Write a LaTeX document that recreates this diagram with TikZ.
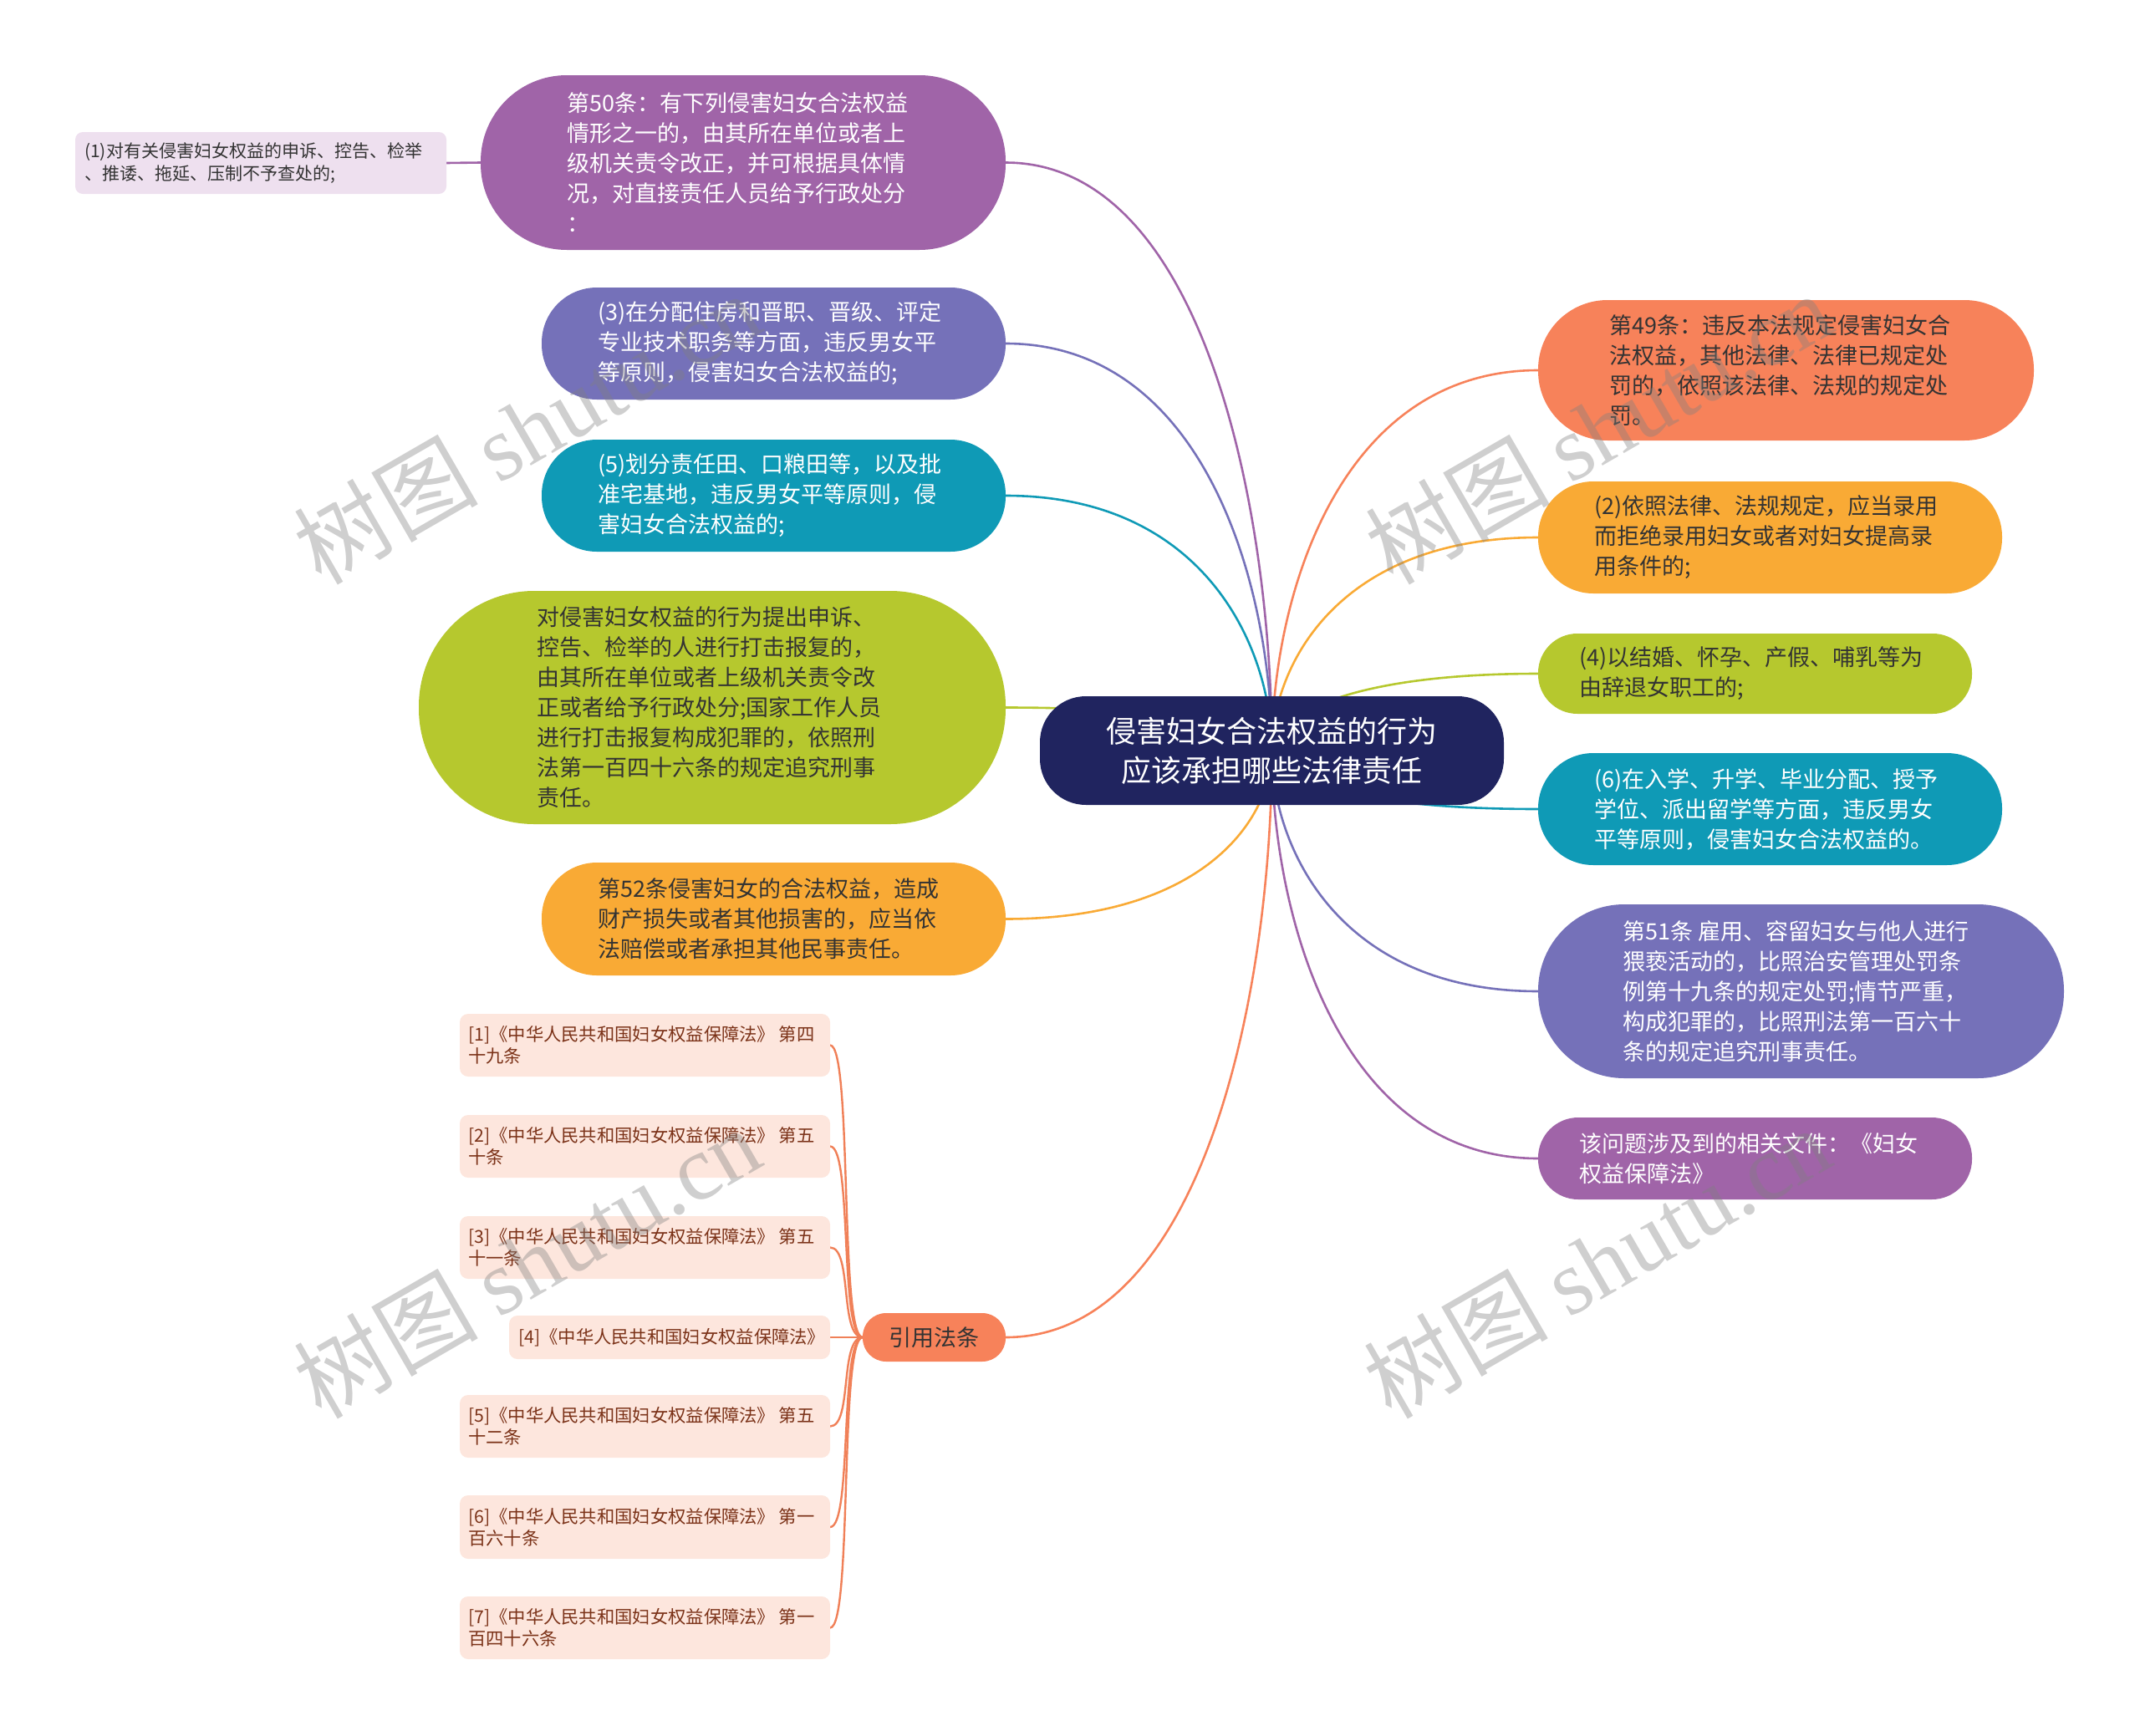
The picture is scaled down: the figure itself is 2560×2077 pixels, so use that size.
\documentclass[tikz,border=0pt]{standalone}
\usepackage{fontspec}
\setmainfont{Noto Sans CJK SC}
\newfontfamily\wmserif{Liberation Serif}
\usetikzlibrary{calc}
\pgfdeclarelayer{bg}
\pgfsetlayers{bg,main}
\definecolor{cPurple}{HTML}{A064A8}
\definecolor{cSlate}{HTML}{7571B9}
\definecolor{cTeal}{HTML}{0F9AB6}
\definecolor{cGreen}{HTML}{B6C82E}
\definecolor{cOrange}{HTML}{F9AA35}
\definecolor{cCoral}{HTML}{F7825A}
\definecolor{cNavy}{HTML}{20245F}
\definecolor{cLav}{HTML}{EEE0EF}
\definecolor{cPeach}{HTML}{FDE6DD}
\definecolor{cBrown}{HTML}{7B3218}
\definecolor{cDark}{HTML}{333333}
\definecolor{cRefLine}{HTML}{F08058}
\tikzset{
  conn/.style={line width=2.6pt, line cap=round},
  rconn/.style={line width=2.4pt, line cap=round, cRefLine},
  shp/.style={draw=none, inner sep=0pt, outer sep=0pt},
  txt/.style={inner sep=0pt, align=left, anchor=west},
  bigtxt/.style={font=\fontsize{27}{36}\selectfont},
  smalltxt/.style={font=\fontsize{21}{27.5}\selectfont, text=cDark},
  reftxt/.style={font=\fontsize{21.3}{26}\selectfont, text=cBrown},
  wm/.style={font=\fontsize{110}{120}\selectfont, text=gray, text opacity=0.38, inner sep=0pt, rotate=30}
}
\newcommand\mmbox[7]{\node[shp, fill=#7, minimum width=#4pt, minimum height=#5pt, rounded corners=#6pt, anchor=north west] (#1) at (#2,#3) {};}
\newcommand\mmconn[2]{\draw[conn,#1] let \p1=(#2), \p2=(cc) in (\p1) .. controls ({\x1+0.75*(\x2-\x1)},\y1) and (\x2,{\y2+0.4*(\y1-\y2)}) .. (\p2);}
\newcommand\refconn[1]{\draw[rconn] let \p1=(yin.west), \p2=(#1.east) in (\p1) .. controls ({\x1-28pt},\y1) and ({\x2+27pt},\y2) .. (\p2);}
\begin{document}
\begin{tikzpicture}[x=1pt,y=-1pt]
\useasboundingbox (0,0) rectangle (2560,2077);
\coordinate (cc) at (1521.5,898);

% ---------- left branch ----------
\mmbox{n50}{575}{90}{628}{209}{103}{cPurple}
\node[txt,bigtxt,text=white] (n50-t) at (678,194.5) {第50条：有下列侵害妇女合法权益\\情形之一的，由其所在单位或者上\\级机关责令改正，并可根据具体情\\况，对直接责任人员给予行政处分\\：};
\mmbox{n1}{90}{158}{444}{74}{9}{cLav}
\node[txt,smalltxt] (n1-t) at (101,195) {(1)对有关侵害妇女权益的申诉、控告、检举\\、推诿、拖延、压制不予查处的;};
\mmbox{n3}{648}{344}{555}{134}{66}{cSlate}
\node[txt,bigtxt,text=white] (n3-t) at (715,411) {(3)在分配住房和晋职、晋级、评定\\专业技术职务等方面，违反男女平\\等原则，侵害妇女合法权益的;};
\mmbox{n5}{648}{526}{555}{134}{66}{cTeal}
\node[txt,bigtxt,text=white] (n5-t) at (715,593) {(5)划分责任田、口粮田等，以及批\\准宅基地，违反男女平等原则，侵\\害妇女合法权益的;};
\mmbox{ng}{501}{707}{702}{279}{138}{cGreen}
\node[txt,bigtxt,text=cDark] (ng-t) at (642,846.5) {对侵害妇女权益的行为提出申诉、\\控告、检举的人进行打击报复的，\\由其所在单位或者上级机关责令改\\正或者给予行政处分;国家工作人员\\进行打击报复构成犯罪的，依照刑\\法第一百四十六条的规定追究刑事\\责任。};
\mmbox{n52}{648}{1032}{555}{135}{66}{cOrange}
\node[txt,bigtxt,text=cDark] (n52-t) at (715,1099.5) {第52条侵害妇女的合法权益，造成\\财产损失或者其他损害的，应当依\\法赔偿或者承担其他民事责任。};
\mmbox{yin}{1032}{1571}{171}{58}{28}{cCoral}
\node[bigtxt,text=cDark,inner sep=0pt] (yin-t) at (yin.center) {引用法条};

% ---------- references ----------
\mmbox{r1}{550}{1213}{443}{75}{10}{cPeach}
\node[txt,reftxt] (r1-t) at (560,1250.5) {[1]《中华人民共和国妇女权益保障法》 第四\\十九条};
\mmbox{r2}{550}{1334}{443}{75}{10}{cPeach}
\node[txt,reftxt] (r2-t) at (560,1371.5) {[2]《中华人民共和国妇女权益保障法》 第五\\十条};
\mmbox{r3}{550}{1455}{443}{75}{10}{cPeach}
\node[txt,reftxt] (r3-t) at (560,1492.5) {[3]《中华人民共和国妇女权益保障法》 第五\\十一条};
\mmbox{r4}{609}{1574}{384}{52}{10}{cPeach}
\node[txt,reftxt] (r4-t) at (620,1600) {[4]《中华人民共和国妇女权益保障法》};
\mmbox{r5}{550}{1669}{443}{75}{10}{cPeach}
\node[txt,reftxt] (r5-t) at (560,1706.5) {[5]《中华人民共和国妇女权益保障法》 第五\\十二条};
\mmbox{r6}{550}{1789}{443}{76}{10}{cPeach}
\node[txt,reftxt] (r6-t) at (560,1827) {[6]《中华人民共和国妇女权益保障法》 第一\\百六十条};
\mmbox{r7}{550}{1910}{443}{75}{10}{cPeach}
\node[txt,reftxt] (r7-t) at (560,1947.5) {[7]《中华人民共和国妇女权益保障法》 第一\\百四十六条};

% ---------- right branch ----------
\mmbox{n49}{1840}{359}{593}{168}{83}{cCoral}
\node[txt,bigtxt,text=cDark] (n49-t) at (1925,443) {第49条：违反本法规定侵害妇女合\\法权益，其他法律、法律已规定处\\罚的，依照该法律、法规的规定处\\罚。};
\mmbox{n2}{1840}{576}{555}{134}{66}{cOrange}
\node[txt,bigtxt,text=cDark] (n2-t) at (1907,643) {(2)依照法律、法规规定，应当录用\\而拒绝录用妇女或者对妇女提高录\\用条件的;};
\mmbox{n4}{1840}{758}{519}{96}{47}{cGreen}
\node[txt,bigtxt,text=cDark] (n4-t) at (1889,806) {(4)以结婚、怀孕、产假、哺乳等为\\由辞退女职工的;};
\mmbox{n6}{1840}{901}{555}{134}{66}{cTeal}
\node[txt,bigtxt,text=white] (n6-t) at (1907,968) {(6)在入学、升学、毕业分配、授予\\学位、派出留学等方面，违反男女\\平等原则，侵害妇女合法权益的。};
\mmbox{n51}{1840}{1082}{629}{208}{103}{cSlate}
\node[txt,bigtxt,text=white] (n51-t) at (1941,1186) {第51条 雇用、容留妇女与他人进行\\猥亵活动的，比照治安管理处罚条\\例第十九条的规定处罚;情节严重，\\构成犯罪的，比照刑法第一百六十\\条的规定追究刑事责任。};
\mmbox{nq}{1840}{1337}{519}{98}{48}{cPurple}
\node[txt,bigtxt,text=white] (nq-t) at (1889,1386) {该问题涉及到的相关文件：《妇女\\权益保障法》};

% ---------- center ----------
\mmbox{c}{1244}{833}{555}{130}{55}{cNavy}
\node[font=\fontsize{36}{47}\selectfont, text=white, align=center, inner sep=0pt] (c-t) at (c.center) {侵害妇女合法权益的行为\\应该承担哪些法律责任};

% ---------- connectors ----------
\begin{pgfonlayer}{bg}
\mmconn{cPurple}{n50.east}
\mmconn{cSlate}{n3.east}
\mmconn{cTeal}{n5.east}
\mmconn{cGreen}{ng.east}
\mmconn{cOrange}{n52.east}
\mmconn{cCoral}{yin.east}
\mmconn{cCoral}{n49.west}
\mmconn{cOrange}{n2.west}
\mmconn{cGreen}{n4.west}
\mmconn{cTeal}{n6.west}
\mmconn{cSlate}{n51.west}
\mmconn{cPurple}{nq.west}
\draw[conn,cPurple] (n1.east) -- (n50.west);
\refconn{r1}
\refconn{r2}
\refconn{r3}
\draw[rconn] (yin.west) -- (r4.east);
\refconn{r5}
\refconn{r6}
\refconn{r7}
\end{pgfonlayer}

% ---------- watermarks ----------
\node[wm] (wm1) at (630,512) {树图 {\wmserif shutu.cn}};
\node[wm] (wm2) at (1912,512) {树图 {\wmserif shutu.cn}};
\node[wm] (wm3) at (630,1510) {树图 {\wmserif shutu.cn}};
\node[wm] (wm4) at (1910,1510) {树图 {\wmserif shutu.cn}};
\end{tikzpicture}
\end{document}
